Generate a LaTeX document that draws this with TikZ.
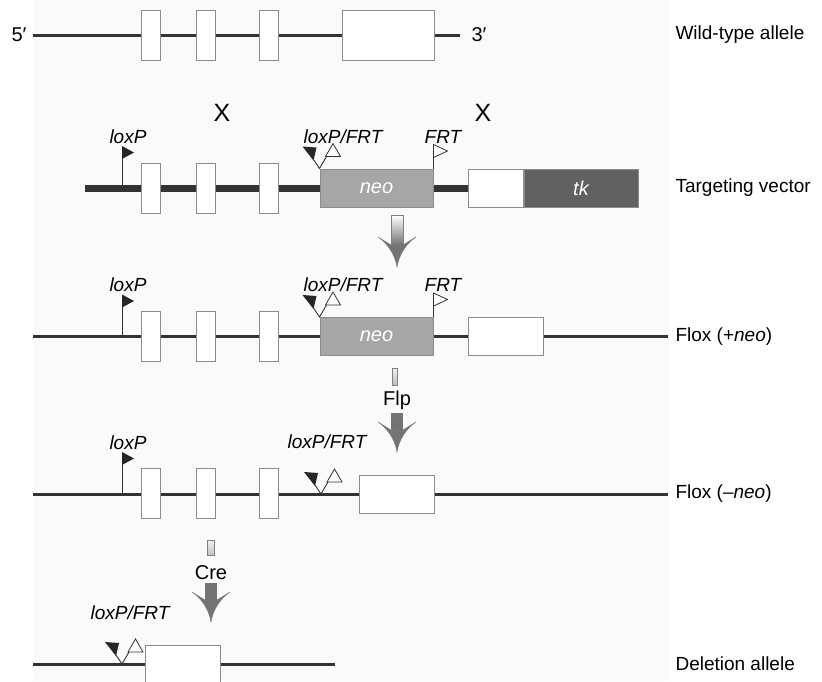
\documentclass[tikz,border=0pt]{standalone}
\usepackage{fontspec}
\setmainfont{Liberation Sans}
\usetikzlibrary{positioning,calc}

\begin{document}
\begin{tikzpicture}[
  x=1pt, y=-1pt,
  dna/.style={draw=black!80, line width=3pt},
  vec/.style={draw=black!80, line width=7pt},
  exon/.style={draw=black!45, fill=white, line width=1pt, inner sep=0pt,
               minimum width=19pt, minimum height=50pt},
  cass/.style={draw=black!45, line width=1pt, inner sep=0pt,
               minimum height=38pt, text=white,
               font=\fontsize{20}{24}\selectfont\itshape},
  site/.style={font=\fontsize{19}{23}\selectfont\itshape},
  side/.style={anchor=west, font=\fontsize{19}{23}\selectfont},
  enz/.style={font=\fontsize{20}{24}\selectfont},
  cross/.style={font=\fontsize{25}{30}\selectfont},
  shaft/.style={top color=white, bottom color=black!55, draw=black!50,
                line width=0.5pt},
  loxflag/.pic={
    \draw[black!80, line width=1pt] (0,0) -- (0,-41);
    \fill[black!85] (0,-42) -- (12,-35.5) -- (0,-29) -- cycle;},
  frtflag/.pic={
    \draw[black!80, line width=1pt] (0,0) -- (0,-23);
    \filldraw[fill=white, draw=black!80, line width=0.8pt]
      (0,-24) -- (14,-17.5) -- (0,-11) -- cycle;},
  lfsite/.pic={
    \draw[black!80, line width=0.9pt] (-6,-9) -- (0,0) -- (7,-12);
    \fill[black!85] (-17,-22) -- (-3,-21) -- (-6,-8) -- cycle;
    \filldraw[fill=white, draw=black!80, line width=0.8pt]
      (6,-12) -- (21,-12) -- (13.5,-25) -- cycle;},
  darrow/.pic={
    \filldraw[fill=black!55, draw=black!50, line width=0.5pt]
      (-6,8) -- (-19,0) .. controls (-10,6) and (-2,17) .. (0,30)
      .. controls (2,17) and (10,6) .. (19,0) -- (6,8) -- cycle;}
]
\useasboundingbox (0,0) rectangle (822,681);
\fill[black!2] (33,0) rectangle (669,681);

% wild-type allele
\coordinate (w0) at (33,35);
\coordinate (w9) at (460,35);
\draw[dna] (w0) -- (w9);
\node[exon] (w1) at (151,35) {};
\node[exon] (w2) at (205.5,35) {};
\node[exon] (w3) at (269,35) {};
\node[exon, minimum width=92pt] (w4) at (388,35) {};
\node[enz, left=3pt of w0] (p5) {5′};
\node[enz, right=8pt of w9] (p3) {3′};
\node[side] (lw) at (672,35) {Wild-type allele};

% targeting vector
\coordinate (v0) at (85,188);
\coordinate (v9) at (470,188);
\draw[vec] (v0) -- (v9);
\node[exon] (t1) at (151,188) {};
\node[exon] (t2) at (205.5,188) {};
\node[exon] (t3) at (269,188) {};
\node[cass, fill=black!35, minimum width=113pt] (tneo) at (376.5,188) {neo};
\node[cass, fill=white, minimum width=55pt] (tw) at (495.5,188) {};
\node[cass, fill=black!62, minimum width=114pt, right=0pt of tw] (ttk) {tk};
\pic at (122,188) {loxflag};
\pic at (tneo.north west) {lfsite};
\pic at (tneo.north east) {frtflag};
\node[site] (tl1) at (128,137) {loxP};
\node[site] (tl2) at (343,137) {loxP/FRT};
\node[site] (tl3) at (443,137) {FRT};
\node[cross] (x1) at (222,113) {X};
\node[cross] (x2) at (483,113) {X};
\node[side] (lt) at (672,188) {Targeting vector};

% recombination
\shade[shaft] (391,215) rectangle (403,245);
\pic at (397,237) {darrow};

% flox (+neo)
\coordinate (f0) at (33,336.5);
\coordinate (f9) at (668,336.5);
\draw[dna] (f0) -- (f9);
\node[exon] (f1) at (151,336.5) {};
\node[exon] (f2) at (205.5,336.5) {};
\node[exon] (f3) at (269,336.5) {};
\node[cass, fill=black!35, minimum width=113pt] (fneo) at (376.5,336.5) {neo};
\node[cass, fill=white, minimum width=75pt] (fw) at (505.5,336.5) {};
\pic at (122,336.5) {loxflag};
\pic at (fneo.north west) {lfsite};
\pic at (fneo.north east) {frtflag};
\node[site] (fl1) at (128,285) {loxP};
\node[site] (fl2) at (343,285) {loxP/FRT};
\node[site] (fl3) at (443,285) {FRT};
\node[side] (lf) at (672,336.5) {Flox (+\textit{neo})};

% Flp
\shade[shaft, top color=black!5, bottom color=black!25] (392,368) rectangle (397,385);
\node[enz] (flp) at (397,400) {Flp};
\fill[black!55] (391,413) rectangle (403,431);
\pic at (397,422) {darrow};

% flox (-neo)
\coordinate (n0) at (33,494);
\coordinate (n9) at (668,494);
\draw[dna] (n0) -- (n9);
\node[exon] (n1) at (151,493) {};
\node[exon] (n2) at (205.5,493) {};
\node[exon] (n3) at (269,493) {};
\node[cass, fill=white, minimum width=75pt] (nw) at (396.5,494) {};
\pic at (122,494) {loxflag};
\pic at (321,494) {lfsite};
\node[site] (nl1) at (128,443) {loxP};
\node[site] (nl2) at (327,442) {loxP/FRT};
\node[side] (ln) at (672,494) {Flox (–\textit{neo})};

% Cre
\shade[shaft, top color=black!5, bottom color=black!25] (207.5,540) rectangle (214.5,555);
\node[enz] (cre) at (211,573) {Cre};
\fill[black!55] (205,583) rectangle (217,601);
\pic at (211,592) {darrow};

% deletion allele
\coordinate (d0) at (33,664);
\coordinate (d9) at (335,664);
\draw[dna] (d0) -- (d9);
\node[cass, fill=white, minimum width=75pt] (dw) at (182.5,664) {};
\pic at (122,664) {lfsite};
\node[site] (dl1) at (130,613) {loxP/FRT};
\node[side] (ld) at (672,664) {Deletion allele};
\end{tikzpicture}
\end{document}
